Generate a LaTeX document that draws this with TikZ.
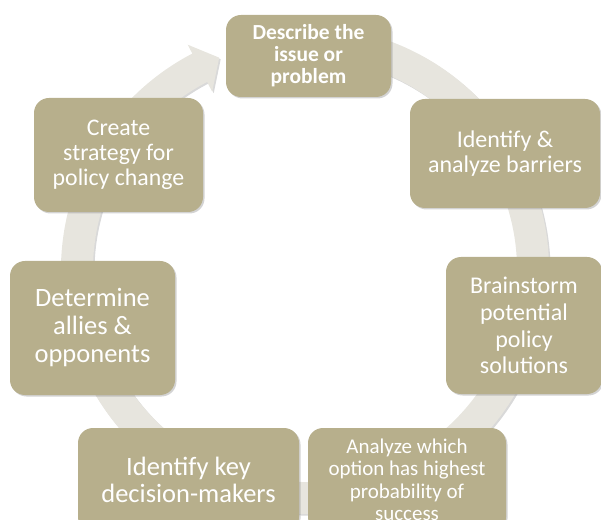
\documentclass[tikz,border=0pt]{standalone}
\usepackage{fontspec}
\setmainfont{Carlito}
\usetikzlibrary{shadows}
\definecolor{boxtan}{HTML}{B7AF8C}
\definecolor{ringgray}{HTML}{E7E5DE}

\begin{document}
\begin{tikzpicture}[x=1pt,y=1pt,
  stage/.style={fill=boxtan,rounded corners=15pt,text=white,align=center,inner sep=0pt,
    drop shadow={shadow xshift=1.5pt,shadow yshift=-1.5pt,opacity=0.35}}]
\clip (0,0) rectangle (601,519);
% cycle ring: centre (305,249), outer r 244, inner r 212, head ends at the first step
\fill[ringgray,drop shadow={shadow xshift=1.5pt,shadow yshift=-1.5pt,opacity=0.3}]
  ([shift={(305,249)}]75:244) arc[start angle=75,end angle=-242.5,radius=244]
  -- ([shift={(305,249)}]117.5:254) -- ([shift={(305,249)}]112:229) -- ([shift={(305,249)}]117.5:201)
  -- ([shift={(305,249)}]117.5:212) arc[start angle=117.5,end angle=435,radius=212] -- cycle;
% the seven steps, clockwise from the top
\node[stage,minimum width=165,minimum height=82,font=\bfseries\fontsize{21.5}{22}\selectfont] (desc) at (308.5,463) {Describe the\\issue or\\problem};
\node[stage,minimum width=190,minimum height=109,font=\fontsize{24}{25}\selectfont] (barr) at (505,365.5) {Identify \&\\analyze barriers};
\node[stage,minimum width=156,minimum height=137,font=\fontsize{24}{26.7}\selectfont] (brain) at (524,193.5) {Brainstorm\\potential\\policy\\solutions};
\node[stage,minimum width=198,minimum height=104,font=\fontsize{21}{22.5}\selectfont] (anal) at (407,39) {Analyze which\\option has highest\\probability of\\success};
\node[stage,minimum width=221,minimum height=104,font=\fontsize{26.5}{27}\selectfont] (key) at (188.5,39) {Identify key\\decision-makers};
\node[stage,minimum width=165,minimum height=134,font=\fontsize{26.5}{28}\selectfont] (allies) at (92.5,191) {Determine\\allies \&\\opponents};
\node[stage,minimum width=169,minimum height=114,font=\fontsize{23.8}{25}\selectfont] (strat) at (118.5,364) {Create\\strategy for\\policy change};
\end{tikzpicture}
\end{document}
